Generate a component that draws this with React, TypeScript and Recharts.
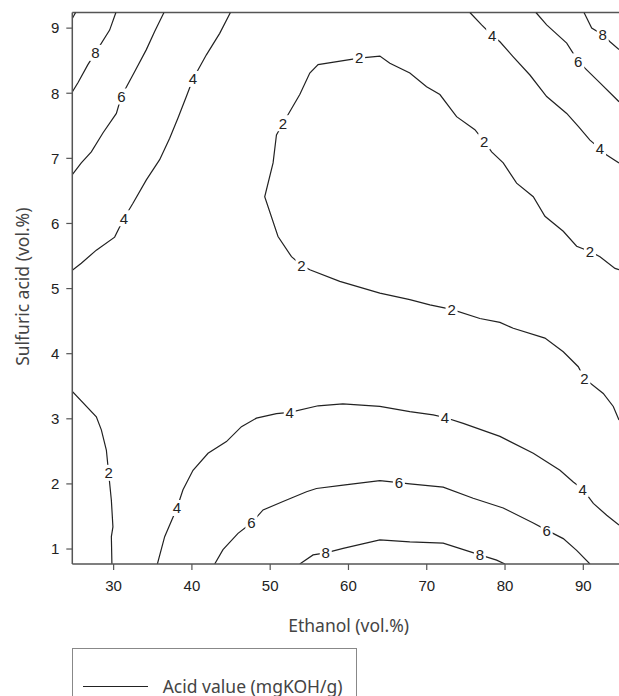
import { ComposedChart, Legend, Line, ReferenceLine, Scatter, XAxis, YAxis } from 'recharts'

// axis ranges and ticks
const X_MIN = 24.72
const X_MAX = 94.56
const Y_MIN = 0.77
const Y_MAX = 9.24
const X_TICKS = [30, 40, 50, 60, 70, 80, 90]
const Y_TICKS = [1, 2, 3, 4, 5, 6, 7, 8, 9]

// contour lines of the acid value
const ACID_10_CORNER = [
  { x: 24.72, y: 9.15 },
  { x: 25.14, y: 9.24 },
]

const ACID_8_TOP_LEFT = [
  { x: 30.29, y: 9.24 },
  { x: 29.49, y: 8.97 },
  { x: 27.66, y: 8.62 },
  { x: 26.71, y: 8.44 },
  { x: 25.44, y: 8.16 },
  { x: 24.72, y: 8.02 },
]

const ACID_8_TOP_RIGHT = [
  { x: 90.09, y: 9.24 },
  { x: 91.07, y: 9.0 },
  { x: 92.48, y: 8.9 },
  { x: 93.41, y: 8.79 },
  { x: 94.56, y: 8.67 },
]

const ACID_6_TOP_LEFT = [
  { x: 36.43, y: 9.24 },
  { x: 35.24, y: 8.95 },
  { x: 34.18, y: 8.67 },
  { x: 32.68, y: 8.33 },
  { x: 30.98, y: 7.95 },
  { x: 30.35, y: 7.69 },
  { x: 28.63, y: 7.39 },
  { x: 27.15, y: 7.1 },
  { x: 25.87, y: 6.93 },
  { x: 24.72, y: 6.75 },
]

const ACID_6_TOP_RIGHT = [
  { x: 83.95, y: 9.24 },
  { x: 85.32, y: 9.05 },
  { x: 87.88, y: 8.77 },
  { x: 89.36, y: 8.49 },
  { x: 90.43, y: 8.36 },
  { x: 92.13, y: 8.16 },
  { x: 94.56, y: 7.87 },
]

const ACID_4_TOP_LEFT = [
  { x: 44.92, y: 9.24 },
  { x: 43.55, y: 8.92 },
  { x: 41.85, y: 8.59 },
  { x: 40.14, y: 8.22 },
  { x: 39.29, y: 7.95 },
  { x: 38.22, y: 7.62 },
  { x: 37.16, y: 7.31 },
  { x: 35.88, y: 6.98 },
  { x: 34.18, y: 6.67 },
  { x: 32.47, y: 6.31 },
  { x: 31.32, y: 6.08 },
  { x: 30.13, y: 5.79 },
  { x: 27.79, y: 5.59 },
  { x: 25.87, y: 5.39 },
  { x: 24.72, y: 5.28 },
]

const ACID_4_TOP_RIGHT = [
  { x: 75.51, y: 9.24 },
  { x: 77.01, y: 9.05 },
  { x: 78.36, y: 8.89 },
  { x: 79.35, y: 8.79 },
  { x: 81.05, y: 8.56 },
  { x: 83.18, y: 8.28 },
  { x: 85.32, y: 7.95 },
  { x: 87.88, y: 7.69 },
  { x: 89.36, y: 7.49 },
  { x: 90.85, y: 7.28 },
  { x: 92.13, y: 7.15 },
  { x: 92.99, y: 7.05 },
  { x: 94.56, y: 6.93 },
]

const ACID_2_TROUGH = [
  { x: 94.56, y: 5.29 },
  { x: 94.05, y: 5.31 },
  { x: 92.13, y: 5.49 },
  { x: 90.85, y: 5.57 },
  { x: 89.15, y: 5.65 },
  { x: 87.44, y: 5.88 },
  { x: 85.1, y: 6.11 },
  { x: 83.61, y: 6.41 },
  { x: 81.48, y: 6.62 },
  { x: 79.77, y: 6.93 },
  { x: 78.29, y: 7.1 },
  { x: 77.34, y: 7.26 },
  { x: 76.15, y: 7.44 },
  { x: 73.81, y: 7.64 },
  { x: 71.68, y: 7.98 },
  { x: 69.98, y: 8.1 },
  { x: 67.84, y: 8.31 },
  { x: 65.29, y: 8.46 },
  { x: 64.01, y: 8.57 },
  { x: 61.36, y: 8.54 },
  { x: 56.12, y: 8.44 },
  { x: 55.06, y: 8.31 },
  { x: 53.78, y: 7.98 },
  { x: 51.64, y: 7.54 },
  { x: 50.8, y: 7.36 },
  { x: 50.37, y: 6.93 },
  { x: 49.3, y: 6.41 },
  { x: 51.0, y: 5.8 },
  { x: 52.72, y: 5.49 },
  { x: 54.0, y: 5.36 },
  { x: 55.06, y: 5.29 },
  { x: 58.89, y: 5.11 },
  { x: 64.01, y: 4.93 },
  { x: 67.84, y: 4.83 },
  { x: 70.4, y: 4.75 },
  { x: 73.17, y: 4.68 },
  { x: 76.79, y: 4.54 },
  { x: 79.35, y: 4.48 },
  { x: 81.05, y: 4.39 },
  { x: 85.1, y: 4.24 },
  { x: 87.44, y: 4.03 },
  { x: 89.36, y: 3.8 },
  { x: 90.13, y: 3.62 },
  { x: 92.55, y: 3.39 },
  { x: 93.83, y: 3.19 },
  { x: 94.56, y: 2.98 },
]

const ACID_2_LEFT = [
  { x: 24.72, y: 3.42 },
  { x: 27.79, y: 3.03 },
  { x: 28.43, y: 2.83 },
  { x: 29.07, y: 2.52 },
  { x: 29.36, y: 2.17 },
  { x: 29.71, y: 1.75 },
  { x: 29.91, y: 1.34 },
  { x: 29.71, y: 1.19 },
  { x: 29.78, y: 0.77 },
]

const ACID_4_BOTTOM = [
  { x: 35.59, y: 0.77 },
  { x: 36.52, y: 1.19 },
  { x: 38.09, y: 1.63 },
  { x: 38.86, y: 1.91 },
  { x: 40.14, y: 2.21 },
  { x: 42.06, y: 2.47 },
  { x: 44.41, y: 2.65 },
  { x: 46.33, y: 2.88 },
  { x: 48.24, y: 3.01 },
  { x: 50.8, y: 3.08 },
  { x: 52.5, y: 3.1 },
  { x: 56.12, y: 3.2 },
  { x: 59.28, y: 3.23 },
  { x: 64.01, y: 3.19 },
  { x: 67.84, y: 3.11 },
  { x: 70.82, y: 3.06 },
  { x: 72.32, y: 3.02 },
  { x: 74.66, y: 2.93 },
  { x: 79.35, y: 2.73 },
  { x: 83.61, y: 2.47 },
  { x: 87.02, y: 2.21 },
  { x: 88.72, y: 2.03 },
  { x: 89.92, y: 1.92 },
  { x: 91.28, y: 1.7 },
  { x: 92.99, y: 1.52 },
  { x: 94.56, y: 1.37 },
]

const ACID_6_BOTTOM = [
  { x: 42.91, y: 0.77 },
  { x: 43.97, y: 0.99 },
  { x: 45.89, y: 1.24 },
  { x: 47.6, y: 1.4 },
  { x: 49.09, y: 1.6 },
  { x: 51.64, y: 1.73 },
  { x: 54.64, y: 1.88 },
  { x: 55.91, y: 1.93 },
  { x: 59.32, y: 1.98 },
  { x: 64.01, y: 2.05 },
  { x: 66.44, y: 2.02 },
  { x: 67.84, y: 2.0 },
  { x: 72.1, y: 1.95 },
  { x: 75.93, y: 1.78 },
  { x: 79.77, y: 1.63 },
  { x: 83.61, y: 1.4 },
  { x: 85.32, y: 1.29 },
  { x: 87.44, y: 1.16 },
  { x: 89.15, y: 0.98 },
  { x: 90.85, y: 0.77 },
]

const ACID_8_BOTTOM = [
  { x: 53.78, y: 0.77 },
  { x: 55.48, y: 0.91 },
  { x: 57.1, y: 0.94 },
  { x: 59.32, y: 1.01 },
  { x: 64.01, y: 1.14 },
  { x: 67.84, y: 1.11 },
  { x: 72.1, y: 1.09 },
  { x: 76.79, y: 0.91 },
  { x: 78.93, y: 0.83 },
  { x: 79.99, y: 0.77 },
]

// where the level numbers sit on the lines
const CONTOUR_LABELS = [
  { x: 27.66, y: 8.62, v: 8 },
  { x: 92.48, y: 8.9, v: 8 },
  { x: 30.98, y: 7.95, v: 6 },
  { x: 89.36, y: 8.49, v: 6 },
  { x: 40.14, y: 8.22, v: 4 },
  { x: 31.32, y: 6.08, v: 4 },
  { x: 78.36, y: 8.89, v: 4 },
  { x: 92.13, y: 7.15, v: 4 },
  { x: 90.85, y: 5.57, v: 2 },
  { x: 77.34, y: 7.26, v: 2 },
  { x: 61.36, y: 8.54, v: 2 },
  { x: 51.64, y: 7.54, v: 2 },
  { x: 54.0, y: 5.36, v: 2 },
  { x: 73.17, y: 4.68, v: 2 },
  { x: 90.13, y: 3.62, v: 2 },
  { x: 29.36, y: 2.17, v: 2 },
  { x: 38.09, y: 1.63, v: 4 },
  { x: 52.5, y: 3.1, v: 4 },
  { x: 72.32, y: 3.02, v: 4 },
  { x: 89.92, y: 1.92, v: 4 },
  { x: 47.6, y: 1.4, v: 6 },
  { x: 66.44, y: 2.02, v: 6 },
  { x: 85.32, y: 1.29, v: 6 },
  { x: 57.1, y: 0.94, v: 8 },
  { x: 76.79, y: 0.91, v: 8 },
]

const CONTOURS = [
  ACID_10_CORNER,
  ACID_8_TOP_LEFT,
  ACID_8_TOP_RIGHT,
  ACID_6_TOP_LEFT,
  ACID_6_TOP_RIGHT,
  ACID_4_TOP_LEFT,
  ACID_4_TOP_RIGHT,
  ACID_2_TROUGH,
  ACID_2_LEFT,
  ACID_4_BOTTOM,
  ACID_6_BOTTOM,
  ACID_8_BOTTOM,
]

const AXIS = '#555'
const INK = '#222'
const TICK_FONT = '"Liberation Sans", Arial, sans-serif'
const TITLE_FONT = '"Noto Sans", sans-serif'

function ContourLabel(props: any) {
  const { cx, cy, payload } = props
  if (cx == null || cy == null) return null
  return (
    <g>
      <rect x={cx - 6} y={cy - 8} width={12} height={16} fill="#fff" />
      <text
        x={cx}
        y={cy}
        dy="0.36em"
        textAnchor="middle"
        fontSize={15}
        fontFamily={TICK_FONT}
        fill={INK}
      >
        {payload.v}
      </text>
    </g>
  )
}

function AcidLegend() {
  return (
    <div
      style={{
        position: 'relative',
        width: 284.4,
        height: 48,
        boxSizing: 'border-box',
        border: '1px solid #888',
        borderBottom: 'none',
        background: '#fff',
      }}
    >
      <div
        style={{
          position: 'absolute',
          left: 10,
          top: 37,
          width: 64.6,
          height: 0,
          borderTop: `1.3px solid ${INK}`,
        }}
      />
      <span
        style={{
          position: 'absolute',
          left: 89.4,
          top: 26.5,
          fontFamily: TITLE_FONT,
          fontSize: 17.5,
          lineHeight: '20px',
          color: '#444',
          whiteSpace: 'nowrap',
        }}
      >
        Acid value (mgKOH/g)
      </span>
    </div>
  )
}

export default function App() {
  return (
    <>
      <style>{'body { margin: 8px 0 0 8px; overflow: hidden; }'}</style>
      <ComposedChart width={611} height={688} margin={{ top: 4.5, right: 0, bottom: 0, left: 0 }}>
        <XAxis
          type="number"
          dataKey="x"
          domain={[X_MIN, X_MAX]}
          ticks={X_TICKS}
          allowDataOverflow
          height={132}
          tickSize={6}
          tickMargin={10}
          axisLine={{ stroke: AXIS, strokeWidth: 1.5 }}
          tickLine={{ stroke: AXIS, strokeWidth: 1.2 }}
          tick={{ fontSize: 15, fontFamily: TICK_FONT, fill: INK }}
          label={{
            value: 'Ethanol (vol.%)',
            position: 'insideTop',
            offset: 56,
            dx: 3,
            fontSize: 17.5,
            fontFamily: TITLE_FONT,
            fill: '#444',
          }}
        />
        <YAxis
          type="number"
          dataKey="y"
          domain={[Y_MIN, Y_MAX]}
          ticks={Y_TICKS}
          allowDataOverflow
          width={64.3}
          tickSize={6}
          tickMargin={7}
          axisLine={{ stroke: AXIS, strokeWidth: 1.5 }}
          tickLine={{ stroke: AXIS, strokeWidth: 1.2 }}
          tick={{ fontSize: 15, fontFamily: TICK_FONT, fill: INK }}
          label={{
            value: 'Sulfuric acid (vol.%)',
            angle: -90,
            position: 'center',
            dx: -17.45,
            dy: -1.5,
            fontSize: 17.5,
            fontFamily: TITLE_FONT,
            fill: '#444',
          }}
        />
        <ReferenceLine y={Y_MAX} stroke={AXIS} strokeWidth={1.5} />
        {CONTOURS.map((points, i) => (
          <Line
            key={i}
            data={points}
            dataKey="y"
            type="linear"
            stroke={INK}
            strokeWidth={1.2}
            dot={false}
            activeDot={false}
            legendType="none"
            isAnimationActive={false}
          />
        ))}
        <Scatter
          data={CONTOUR_LABELS}
          dataKey="y"
          shape={ContourLabel}
          legendType="none"
          isAnimationActive={false}
        />
        <Legend
          layout="horizontal"
          verticalAlign="middle"
          align="center"
          content={AcidLegend}
          wrapperStyle={{ top: 640, left: 64.3, width: 284.4, height: 48 }}
        />
      </ComposedChart>
    </>
  )
}
